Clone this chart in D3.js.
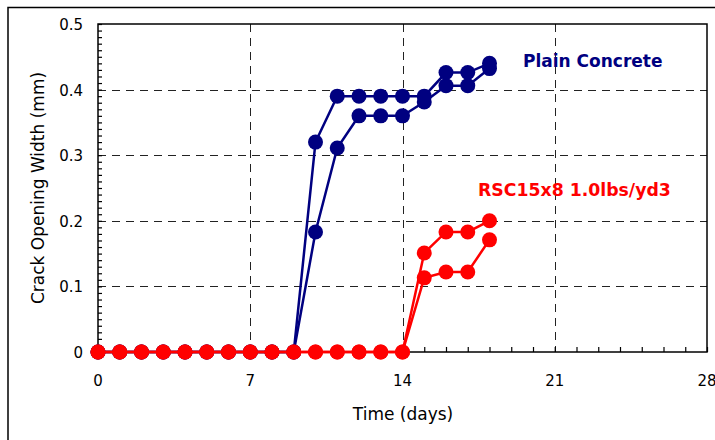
<!DOCTYPE html>
<html>
<head>
<meta charset="utf-8">
<script src="https://cdn.jsdelivr.net/npm/d3@7"></script>
<style>
    body { margin: 0; background: #fff; }
    text { font-family: "DejaVu Sans", Verdana, sans-serif; }
    .grid { stroke: #222; stroke-width: 1; stroke-dasharray: 8,6; }
</style>
</head>
<body>
<div id="chart"></div>
<script>

// Time in days
var days = [0, 1, 2, 3, 4, 5, 6, 7, 8, 9, 10, 11, 12, 13, 14, 15, 16, 17, 18];

// Plain concrete, two specimens
var plainA = [0, 0, 0, 0, 0, 0, 0, 0, 0, 0, 0.32, 0.39, 0.39, 0.39, 0.39, 0.39, 0.426, 0.426, 0.44];
var plainB = [0, 0, 0, 0, 0, 0, 0, 0, 0, 0, 0.183, 0.311, 0.36, 0.36, 0.36, 0.381, 0.406, 0.406, 0.432];

// RSC15x8 1.0lbs/yd3, two specimens
var rscA = [0, 0, 0, 0, 0, 0, 0, 0, 0, 0, 0, 0, 0, 0, 0, 0.151, 0.183, 0.183, 0.2];
var rscB = [0, 0, 0, 0, 0, 0, 0, 0, 0, 0, 0, 0, 0, 0, 0, 0.113, 0.122, 0.122, 0.171];

var xTicks = [0, 7, 14, 21, 28];
var yTicks = [0, 0.1, 0.2, 0.3, 0.4, 0.5];

function init() {

    var width = 715;
    var height = 440;

    // Plot area
    var left = 98, right = 707, top = 24, bottom = 352;

    var x = d3.scaleLinear().domain([0, 28]).range([left, right]);
    var y = d3.scaleLinear().domain([0, 0.5]).range([bottom, top]);

    var svg = d3.select("#chart")
        .append("svg")
        .attr("width", width)
        .attr("height", height);

    // Outer chart border
    svg.append("rect")
        .attr("x", 8)
        .attr("y", 7.5)
        .attr("width", 720)
        .attr("height", 450)
        .attr("fill", "none")
        .attr("stroke", "#000")
        .attr("stroke-width", 1.5);

    // Dashed grid
    svg.selectAll(".vgrid")
        .data([7, 14, 21])
        .enter()
        .append("line")
        .attr("class", "grid")
        .attr("x1", function (d) { return Math.round(x(d)) + 0.5; })
        .attr("x2", function (d) { return Math.round(x(d)) + 0.5; })
        .attr("y1", top)
        .attr("y2", bottom);

    svg.selectAll(".hgrid")
        .data([0.1, 0.2, 0.3, 0.4])
        .enter()
        .append("line")
        .attr("class", "grid")
        .attr("x1", left)
        .attr("x2", right)
        .attr("y1", function (d) { return Math.round(y(d)) + 0.5; })
        .attr("y2", function (d) { return Math.round(y(d)) + 0.5; });

    // Plot frame
    svg.append("rect")
        .attr("x", left)
        .attr("y", top)
        .attr("width", right - left)
        .attr("height", bottom - top)
        .attr("fill", "none")
        .attr("stroke", "#000")
        .attr("stroke-width", 1.5);

    // Axes with inward minor ticks
    var xAxis = d3.axisTop(x)
        .tickValues(d3.range(0, 29, 1))
        .tickSize(5)
        .tickFormat("");
    svg.append("g")
        .attr("transform", "translate(0," + bottom + ")")
        .call(xAxis)
        .call(function (g) { g.select(".domain").remove(); })
        .selectAll("line").attr("stroke-width", 1.2);

    var yAxis = d3.axisRight(y)
        .tickValues(d3.range(0, 51, 1).map(function (d) { return d / 100; }))
        .tickSize(4)
        .tickFormat("");
    svg.append("g")
        .attr("transform", "translate(" + left + ",0)")
        .call(yAxis)
        .call(function (g) { g.select(".domain").remove(); })
        .selectAll("line").attr("stroke-width", 1.2);

    // Tick labels
    svg.selectAll(".xlabel")
        .data(xTicks)
        .enter()
        .append("text")
        .attr("x", function (d) { return x(d); })
        .attr("y", 386)
        .attr("text-anchor", "middle")
        .attr("font-size", 15)
        .text(function (d) { return d; });

    svg.selectAll(".ylabel")
        .data(yTicks)
        .enter()
        .append("text")
        .attr("x", 83)
        .attr("y", function (d) { return y(d) + 6; })
        .attr("text-anchor", "end")
        .attr("font-size", 15)
        .text(function (d) { return d; });

    // Axis titles
    svg.append("text")
        .attr("x", 403)
        .attr("y", 420)
        .attr("text-anchor", "middle")
        .attr("font-size", 17)
        .text("Time (days)");

    svg.append("text")
        .attr("transform", "translate(44," + ((top + bottom) / 2) + ") rotate(-90)")
        .attr("text-anchor", "middle")
        .attr("font-size", 17)
        .text("Crack Opening Width (mm)");

    // Series
    var line = d3.line()
        .x(function (d) { return x(d[0]); })
        .y(function (d) { return y(d[1]); });

    function drawSeries(values, color) {
        var pts = days.map(function (d, i) { return [d, values[i]]; });
        svg.append("path")
            .datum(pts)
            .attr("d", line)
            .attr("fill", "none")
            .attr("stroke", color)
            .attr("stroke-width", 2.5);
        svg.append("g")
            .selectAll("circle")
            .data(pts)
            .enter()
            .append("circle")
            .attr("cx", function (d) { return x(d[0]); })
            .attr("cy", function (d) { return y(d[1]); })
            .attr("r", 7.5)
            .attr("fill", color);
    }

    drawSeries(plainB, "#000080");
    drawSeries(plainA, "#000080");
    drawSeries(rscB, "#ff0000");
    drawSeries(rscA, "#ff0000");

    // Series labels
    svg.append("text")
        .attr("x", 523)
        .attr("y", 67)
        .attr("font-size", 17)
        .attr("font-weight", "bold")
        .attr("fill", "#000080")
        .text("Plain Concrete");

    svg.append("text")
        .attr("x", 478)
        .attr("y", 196)
        .attr("font-size", 17.3)
        .attr("font-weight", "bold")
        .attr("fill", "#ff0000")
        .text("RSC15x8 1.0lbs/yd3");
}

window.onload = init;
</script>
</body>
</html>
